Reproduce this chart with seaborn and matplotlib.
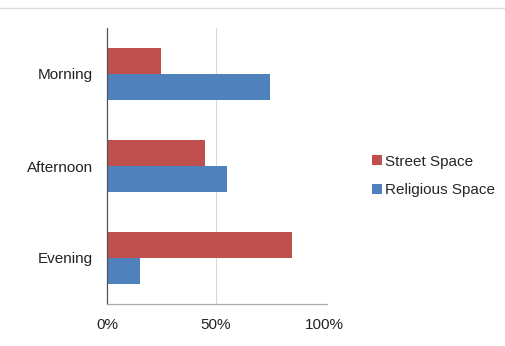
import matplotlib
matplotlib.use("Agg")
import matplotlib.pyplot as plt
import seaborn as sns
import pandas as pd
from matplotlib.lines import Line2D
from matplotlib.patches import Patch

categories = ["Morning", "Afternoon", "Evening"]
series_names = ["Street Space", "Religious Space"]
street = [25, 45, 85]
religious = [75, 55, 15]
x_ticks = [0, 50, 100]
x_labels = ["0%", "50%", "100%"]
colors = ["#C0504D", "#4F81BD"]

df = pd.DataFrame({
    "time": categories * 2,
    "value": street + religious,
    "series": [series_names[0]] * 3 + [series_names[1]] * 3,
})

sns.set_theme(style="white")
plt.rcParams["font.family"] = ["Liberation Sans", "DejaVu Sans"]

fig = plt.figure(figsize=(5.06, 3.46), dpi=100)
ax = fig.add_axes([107/506, 1 - 304/346, (327-107)/506, (304-28)/346])

sns.barplot(data=df, x="value", y="time", hue="series", orient="h",
            palette=colors, width=0.57, gap=0, saturation=1, ax=ax,
            legend=False, errorbar=None, linewidth=0, edgecolor="none")

ax.set_xlim(0, 101)
ax.set_ylim(2.5, -0.5)
ax.set_xticks(x_ticks)
ax.set_xticklabels(x_labels, fontsize=11, color="#222222")
ax.tick_params(axis="y", labelsize=11, labelcolor="#222222", length=0, pad=10)
ax.tick_params(axis="x", length=0, pad=10)
ax.set_xlabel("")
ax.set_ylabel("")
ax.axvline(50, color="#d9d9d9", lw=0.8, zorder=0)
for s in ["top", "right"]:
    ax.spines[s].set_visible(False)
ax.spines["left"].set_color("#555555")
ax.spines["left"].set_linewidth(0.9)
ax.spines["bottom"].set_color("#aaaaaa")
ax.spines["bottom"].set_linewidth(0.9)

handles = [Patch(facecolor=c, edgecolor="none") for c in colors]
fig.legend(handles, series_names, loc="center left",
           bbox_to_anchor=(358/506, 1 - 176/346), frameon=False,
           fontsize=11, handlelength=0.65, handleheight=0.65,
           handletextpad=0.25, labelspacing=0.95)

fig.add_artist(Line2D([0, 1], [1 - 8/346, 1 - 8/346], color="#dddddd", lw=1.0))

fig.savefig("out.png", dpi=100)
